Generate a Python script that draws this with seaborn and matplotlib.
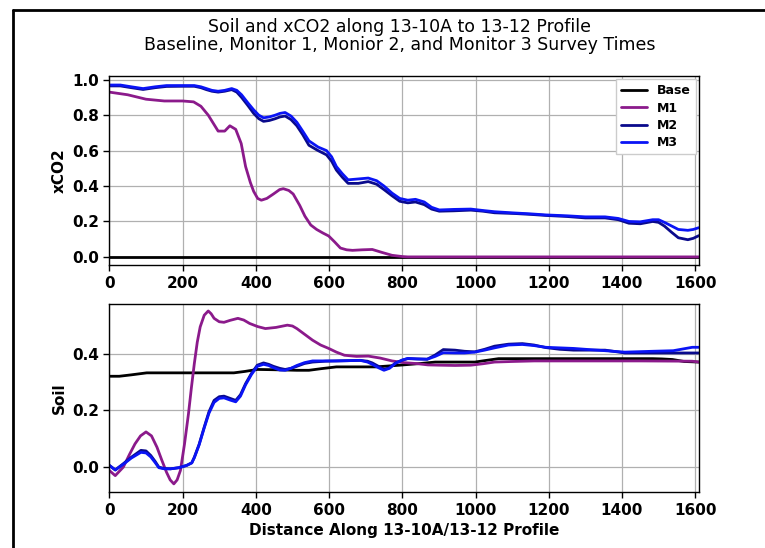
import pandas as pd
import seaborn as sns
import matplotlib
matplotlib.use('Agg')
import matplotlib.pyplot as plt
from matplotlib.lines import Line2D

# ---- xCO2 (top panel) ----
co2_base_x = [0, 400, 800, 1200, 1610]
co2_base_y = [0.0, 0.0, 0.0, 0.0, 0.0]

co2_m1_x = [0, 50, 100, 150, 200, 230, 250, 270, 297, 315,
            329, 345, 360, 372, 385, 394, 405, 415, 430, 448,
            465, 475, 490, 502, 520, 534, 550, 566, 583, 599,
            615, 631, 648, 664, 690, 718, 745, 772, 800, 815,
            900, 1000, 1200, 1400, 1610]
co2_m1_y = [0.93, 0.915, 0.89, 0.88, 0.88, 0.875, 0.85, 0.80, 0.71, 0.71,
            0.74, 0.72, 0.64, 0.51, 0.42, 0.37, 0.33, 0.32, 0.33, 0.355,
            0.38, 0.385, 0.375, 0.355, 0.29, 0.23, 0.18, 0.155, 0.135, 0.118,
            0.085, 0.05, 0.04, 0.037, 0.04, 0.042, 0.025, 0.009, 0.002, 0.0,
            0.0, 0.0, 0.0, 0.0, 0.0]

co2_m_x = [0, 30, 60, 92, 125, 156, 200, 232, 250, 265,
           280, 297, 315, 334, 348, 361, 378, 394, 408, 421,
           437, 453, 466, 480, 496, 512, 528, 545, 570, 593,
           607, 620, 636, 652, 680, 707, 730, 750, 772, 793,
           815, 836, 860, 880, 901, 940, 987, 1020, 1052, 1106,
           1150, 1192, 1250, 1300, 1354, 1390, 1419, 1450, 1484, 1500,
           1516, 1535, 1554, 1580, 1595, 1610]
co2_m2_y = [0.965, 0.965, 0.955, 0.945, 0.955, 0.962, 0.963, 0.963, 0.955, 0.944,
            0.935, 0.93, 0.935, 0.944, 0.93, 0.90, 0.855, 0.81, 0.78, 0.765,
            0.77, 0.78, 0.79, 0.795, 0.775, 0.74, 0.69, 0.63, 0.60, 0.576,
            0.54, 0.49, 0.45, 0.415, 0.415, 0.425, 0.41, 0.38, 0.345, 0.314,
            0.305, 0.31, 0.295, 0.27, 0.258, 0.26, 0.264, 0.258, 0.249, 0.245,
            0.24, 0.234, 0.228, 0.22, 0.22, 0.21, 0.19, 0.187, 0.20, 0.195,
            0.174, 0.14, 0.108, 0.097, 0.105, 0.12]
co2_m3_y = [0.97, 0.97, 0.96, 0.95, 0.96, 0.967, 0.967, 0.967, 0.96, 0.95,
            0.94, 0.935, 0.94, 0.95, 0.94, 0.915, 0.87, 0.83, 0.80, 0.785,
            0.79, 0.80, 0.81, 0.815, 0.795, 0.76, 0.71, 0.655, 0.62, 0.60,
            0.565, 0.51, 0.47, 0.435, 0.44, 0.445, 0.43, 0.40, 0.36, 0.33,
            0.32, 0.325, 0.31, 0.28, 0.265, 0.268, 0.27, 0.262, 0.255, 0.248,
            0.243, 0.237, 0.232, 0.226, 0.226, 0.217, 0.20, 0.198, 0.21, 0.21,
            0.195, 0.175, 0.155, 0.15, 0.155, 0.165]

# ---- Soil (bottom panel) ----
soil_base_x = [0, 27, 60, 102, 150, 189, 250, 340, 370, 404,
               450, 512, 545, 580, 620, 700, 728, 793, 850, 890,
               998, 1030, 1063, 1160, 1300, 1484, 1510, 1538, 1570, 1610]
soil_base_y = [0.32, 0.32, 0.325, 0.332, 0.332, 0.332, 0.332, 0.332, 0.337, 0.344,
               0.343, 0.341, 0.341, 0.347, 0.353, 0.353, 0.353, 0.359, 0.365, 0.37,
               0.37, 0.376, 0.382, 0.382, 0.382, 0.382, 0.381, 0.379, 0.372, 0.37]

soil_m1_x = [0, 16, 38, 55, 70, 85, 100, 115, 130, 143,
             156, 166, 176, 185, 194, 205, 216, 224, 232, 240,
             248, 259, 270, 278, 286, 300, 313, 330, 351, 367,
             383, 405, 426, 455, 486, 500, 512, 533, 555, 577,
             599, 620, 642, 675, 707, 740, 772, 805, 836, 870,
             901, 944, 987, 1020, 1052, 1100, 1160, 1300, 1450, 1592,
             1610]
soil_m1_y = [-0.012, -0.03, 0.0, 0.045, 0.082, 0.11, 0.124, 0.11, 0.07, 0.025,
             -0.018, -0.045, -0.059, -0.045, -0.012, 0.08, 0.188, 0.28, 0.365, 0.44,
             0.494, 0.535, 0.55, 0.54, 0.524, 0.512, 0.51, 0.517, 0.524, 0.518,
             0.506, 0.495, 0.488, 0.492, 0.5, 0.497, 0.488, 0.468, 0.447, 0.43,
             0.418, 0.405, 0.394, 0.39, 0.391, 0.384, 0.374, 0.368, 0.365, 0.36,
             0.359, 0.358, 0.359, 0.364, 0.37, 0.372, 0.374, 0.374, 0.374, 0.373,
             0.37]

soil_m_x = [0, 16, 38, 60, 86, 100, 113, 125, 135, 150,
            167, 190, 211, 225, 232, 245, 259, 272, 286, 300,
            313, 330, 345, 358, 372, 388, 404, 421, 435, 448,
            465, 480, 496, 512, 533, 555, 590, 620, 655, 685,
            705, 718, 735, 750, 765, 782, 800, 815, 840, 868,
            890, 912, 944, 970, 998, 1025, 1052, 1090, 1128, 1160,
            1192, 1230, 1268, 1310, 1354, 1408, 1484, 1540, 1592, 1610]
soil_m2_y = [0.006, -0.01, 0.012, 0.035, 0.059, 0.057, 0.041, 0.02, 0.0, -0.005,
             -0.006, -0.002, 0.006, 0.015, 0.035, 0.08, 0.141, 0.195, 0.235, 0.248,
             0.25, 0.242, 0.235, 0.255, 0.294, 0.33, 0.359, 0.367, 0.362, 0.355,
             0.348, 0.344, 0.348, 0.355, 0.365, 0.37, 0.373, 0.374, 0.375, 0.376,
             0.373, 0.367, 0.355, 0.344, 0.35, 0.367, 0.377, 0.382, 0.381, 0.38,
             0.395, 0.414, 0.412, 0.408, 0.406, 0.415, 0.426, 0.433, 0.435, 0.43,
             0.421, 0.415, 0.412, 0.412, 0.412, 0.402, 0.402, 0.402, 0.402, 0.402]
soil_m3_y = [0.006, -0.01, 0.01, 0.032, 0.052, 0.05, 0.036, 0.016, -0.002, -0.006,
             -0.006, -0.002, 0.006, 0.015, 0.033, 0.078, 0.138, 0.19, 0.228, 0.242,
             0.244, 0.236, 0.23, 0.25, 0.29, 0.326, 0.355, 0.362, 0.358, 0.35,
             0.342, 0.341, 0.348, 0.358, 0.368, 0.374, 0.374, 0.374, 0.375, 0.376,
             0.37, 0.362, 0.35, 0.341, 0.348, 0.366, 0.377, 0.383, 0.381, 0.38,
             0.39, 0.403, 0.402, 0.402, 0.405, 0.412, 0.42, 0.43, 0.432, 0.428,
             0.422, 0.42, 0.418, 0.414, 0.41, 0.405, 0.408, 0.41, 0.422, 0.422]

series_names = ['Base', 'M1', 'M2', 'M3']
palette = {'Base': 'black', 'M1': '#8b1a8b', 'M2': '#0a0a8c', 'M3': '#0a14f5'}
x_ticks = [0, 200, 400, 600, 800, 1000, 1200, 1400, 1600]


def long_frame(pairs):
    parts = []
    for name, xs, ys in pairs:
        parts.append(pd.DataFrame({'dist': xs, 'val': ys, 'series': name}))
    return pd.concat(parts, ignore_index=True)


co2_df = long_frame([('Base', co2_base_x, co2_base_y),
                     ('M1', co2_m1_x, co2_m1_y),
                     ('M2', co2_m_x, co2_m2_y),
                     ('M3', co2_m_x, co2_m3_y)])
soil_df = long_frame([('Base', soil_base_x, soil_base_y),
                      ('M1', soil_m1_x, soil_m1_y),
                      ('M2', soil_m_x, soil_m2_y),
                      ('M3', soil_m_x, soil_m3_y)])

sns.set_style("ticks", {"axes.grid": True, "grid.color": "#b0b0b0",
                        "axes.edgecolor": "black", "text.color": "black",
                        "axes.labelcolor": "black", "xtick.color": "black",
                        "ytick.color": "black"})
plt.rcParams['font.family'] = ['DejaVu Sans']

fig = plt.figure(figsize=(7.65, 5.48), dpi=100)
ax1 = fig.add_axes([0.143, 0.516, 0.771, 0.345])
ax2 = fig.add_axes([0.143, 0.102, 0.771, 0.343])

sns.lineplot(data=co2_df, x='dist', y='val', hue='series', hue_order=series_names,
             palette=palette, linewidth=2.0, ax=ax1)
sns.lineplot(data=soil_df, x='dist', y='val', hue='series', hue_order=series_names,
             palette=palette, linewidth=2.0, ax=ax2, legend=False)

ax1.set_xlim(0, 1611)
ax2.set_xlim(0, 1611)
ax1.set_ylim(-0.047, 1.02)
ax2.set_ylim(-0.088, 0.574)
ax1.set_yticks([0.0, 0.2, 0.4, 0.6, 0.8, 1.0])
ax2.set_yticks([0.0, 0.2, 0.4])
for ax in (ax1, ax2):
    ax.set_xticks(x_ticks)
    ax.grid(True, color='#b0b0b0', linewidth=0.9)
    ax.tick_params(axis='both', labelsize=11, length=4, width=1,
                   color='black', labelcolor='black')
    for lab in ax.get_xticklabels() + ax.get_yticklabels():
        lab.set_fontweight('bold')
    for sp in ax.spines.values():
        sp.set_color('black')
        sp.set_linewidth(1.0)

ax1.set_xlabel('')
ax1.set_ylabel('xCO2', fontsize=11, fontweight='bold', color='black')
ax2.set_ylabel('Soil', fontsize=11, fontweight='bold', color='black')
ax2.set_xlabel('Distance Along 13-10A/13-12 Profile', fontsize=11,
               fontweight='bold', color='black')

handles, labels = ax1.get_legend_handles_labels()
ax1.legend(handles, labels, loc='upper right', prop={'weight': 'bold', 'size': 9},
           framealpha=1, edgecolor='#cccccc', fancybox=False, borderpad=0.4,
           handlelength=2.1, labelspacing=0.35, borderaxespad=0.25)

fig.suptitle('Soil and xCO2 along 13-10A to 13-12 Profile\n'
             'Baseline, Monitor 1, Monior 2, and Monitor 3 Survey Times',
             x=0.522, y=0.968, fontsize=12.5, linespacing=1.05, color='black')

# frame lines at top and left of the picture
fig.add_artist(Line2D([13 / 765, 1.0], [1 - 10 / 548, 1 - 10 / 548],
                      transform=fig.transFigure, color='black', linewidth=2))
fig.add_artist(Line2D([13 / 765, 13 / 765], [0.0, 1 - 10 / 548],
                      transform=fig.transFigure, color='black', linewidth=2))

fig.savefig('out.png', dpi=100, facecolor='white')
plt.close(fig)
